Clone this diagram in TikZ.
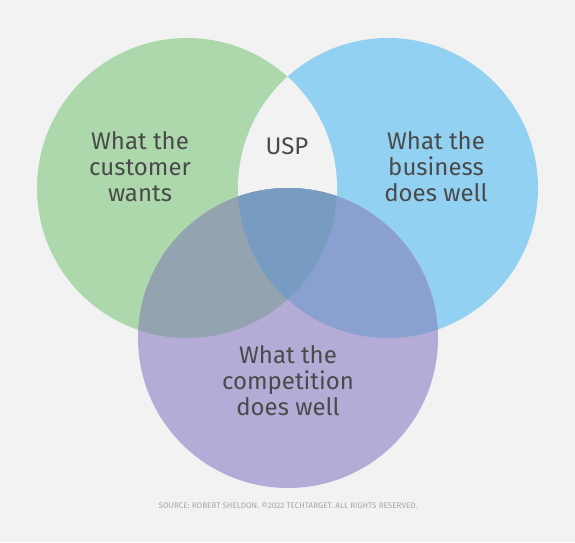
\documentclass[tikz,border=0pt]{standalone}
\usepackage{fontspec}
\setmainfont{Fira Sans}
\definecolor{bgray}{HTML}{F2F2F2}
\definecolor{cgreen}{HTML}{ACD8AC}
\definecolor{cblue}{HTML}{93D1F3}
\definecolor{cpurple}{HTML}{B4ACD7}
\definecolor{gpmix}{HTML}{93A3B0}
\definecolor{bpmix}{HTML}{89A0D1}
\definecolor{allmix}{HTML}{789CC1}
\definecolor{txt}{HTML}{4A4A4A}
\definecolor{srctxt}{HTML}{A6A6A6}
\tikzset{
  label text/.style={text=txt, align=center, font=\fontsize{24}{26}\selectfont},
  src text/.style={text=srctxt, font=\fontsize{8.1}{9}\selectfont}
}
\begin{document}
\begin{tikzpicture}[x=1pt, y=-1pt]
    \fill[bgray] (0,0) rectangle (575,542);
    \useasboundingbox (0,0) rectangle (575,542);
    \coordinate (cust) at (187,188);
    \coordinate (biz) at (388,188);
    \coordinate (comp) at (288,338);
    % the three sets
    \fill[cgreen] (cust) circle [radius=150pt];
    \fill[cblue] (biz) circle [radius=150pt];
    \begin{scope}
      \clip (cust) circle [radius=150pt];
      \fill[bgray] (biz) circle [radius=150pt]; % usp area
    \end{scope}
    \fill[cpurple] (comp) circle [radius=150pt];
    % overlaps
    \begin{scope}
      \clip (comp) circle [radius=150pt];
      \fill[gpmix] (cust) circle [radius=150pt];
      \fill[bpmix] (biz) circle [radius=150pt];
      \clip (cust) circle [radius=150pt];
      \fill[allmix] (biz) circle [radius=150pt];
    \end{scope}
    % labels
    \node[label text] (want) at (140,167) {What the\\customer\\wants};
    \node[label text] (usp) at (287,146) {USP};
    \node[label text] (good) at (436,167) {What the\\business\\does well};
    \node[label text] (rival) at (288,381) {What the\\competition\\does well};
    \node[src text] (src) at (288,506) {SOURCE: ROBERT SHELDON. ©2022 TECHTARGET. ALL RIGHTS RESERVED.};
\end{tikzpicture}
\end{document}
